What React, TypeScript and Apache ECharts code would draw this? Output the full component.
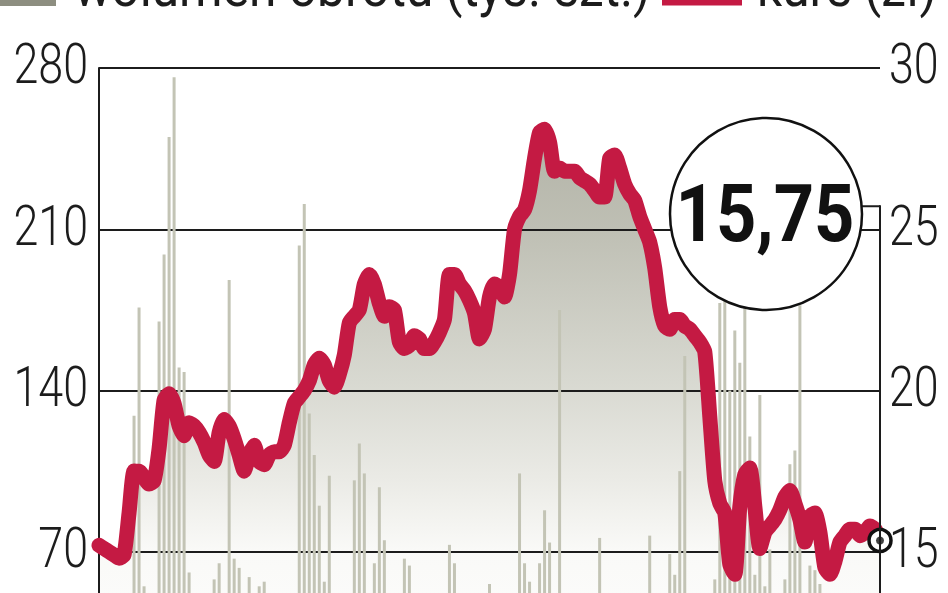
import React, { useEffect, useRef } from "react";
import * as echarts from "echarts";

// Kurs (zł) – one value per session
const price: number[] = [
  15.2, 15.1, 15.0, 14.9, 14.8, 14.9, 16.2, 17.5, 17.5, 17.3,
  17.1, 17.2, 18.2, 19.7, 19.9, 19.6, 18.9, 18.6, 19.0, 18.9,
  18.7, 18.4, 18.0, 17.8, 18.7, 19.1, 18.9, 18.5, 18.0, 17.5,
  18.0, 18.3, 17.8, 17.7, 18.0, 18.1, 18.1, 18.3, 19.0, 19.6,
  19.8, 20.0, 20.3, 20.8, 21.0, 20.8, 20.3, 20.1, 20.5, 21.1,
  22.1, 22.3, 22.5, 23.3, 23.6, 23.3, 22.7, 22.3, 22.6, 22.5,
  21.5, 21.3, 21.4, 21.7, 21.6, 21.3, 21.3, 21.5, 21.8, 22.2,
  23.6, 23.6, 23.3, 23.1, 22.8, 22.4, 21.6, 21.9, 22.9, 23.3,
  23.2, 22.9, 23.6, 25.0, 25.4, 25.6, 26.2, 27.2, 28.0, 28.1,
  27.7, 26.8, 26.9, 26.8, 26.8, 26.8, 26.6, 26.5, 26.4, 26.2,
  26.0, 26.0, 27.2, 27.3, 26.9, 26.4, 26.1, 25.9, 25.4, 25.0,
  24.6, 23.8, 22.6, 22.0, 21.9, 22.2, 22.2, 22.0, 21.9, 21.7,
  21.5, 21.2, 19.2, 17.2, 16.5, 16.2, 14.6, 14.3, 16.4, 17.4,
  17.6, 16.4, 15.1, 15.6, 15.8, 16.0, 16.3, 16.7, 16.9, 16.5,
  16.0, 15.3, 16.1, 16.2, 15.6, 14.5, 14.3, 14.7, 15.3, 15.5,
  15.7, 15.7, 15.5, 15.6, 15.8, 15.7, 15.35,
];

// Wolumen obrotu (tys. szt.)
const volume: number[] = [
  30, 25, 22, 35, 28, 40, 48, 129, 176, 55,
  45, 50, 170, 199, 250, 276, 150, 148, 61, 42,
  38, 45, 50, 58, 65, 47, 188, 67, 63, 50,
  59, 44, 55, 57, 40, 35, 30, 42, 48, 51,
  203, 221, 130, 112, 90, 57, 103, 45, 40, 50,
  48, 101, 117, 104, 52, 65, 98, 75, 45, 40,
  50, 67, 64, 42, 38, 30, 35, 33, 28, 45,
  73, 65, 40, 35, 30, 38, 44, 36, 56, 40,
  32, 28, 35, 47, 104, 65, 57, 45, 65, 88,
  74, 50, 175, 45, 38, 33, 30, 40, 35, 48,
  76, 40, 36, 30, 42, 38, 35, 30, 40, 45,
  77, 40, 45, 50, 69, 60, 105, 155, 48, 45,
  40, 50, 52, 58, 178, 180, 140, 166, 152, 176,
  120, 60, 138, 55, 71, 50, 48, 58, 108, 114,
  177, 52, 64, 62, 56, 45, 40, 35, 42, 38,
  30, 34, 28, 32, 36, 30, 25,
];

const sessions: string[] = price.map((_, i) => String(i + 1));

const volumeTicks = { min: 0, max: 280, interval: 70 };
const priceTicks = { min: 10, max: 30, interval: 5 };
const volumeLabels: number[] = [70, 140, 210, 280];
const priceLabels: number[] = [15, 20, 25, 30];

const lastQuote = "15,75";
const legendVolume = "wolumen obrotu (tys. szt.)";
const legendPrice = "kurs (zł)";

const FONT = 'Roboto, "DejaVu Sans Condensed", sans-serif';
const RED = "#c41a43";
const INK = "#1c1c1c";

export default function App() {
  const ref = useRef<HTMLDivElement>(null);

  useEffect(() => {
    if (!ref.current) return;
    const chart = echarts.init(ref.current, undefined, { renderer: "svg" });
    const last = price.length - 1;

    const lineData = price.map((v, i) =>
      i === last
        ? {
            value: v,
            symbol: "circle",
            symbolSize: 22,
            itemStyle: { color: "#ffffff", borderColor: "#111111", borderWidth: 3.5 },
          }
        : v
    );

    chart.setOption({
      animation: false,
      backgroundColor: "#ffffff",
      grid: { left: 99, top: 68, width: 781, height: 645, outerBoundsMode: "none", containLabel: false },
      xAxis: {
        type: "category",
        data: sessions,
        boundaryGap: false,
        show: false,
      },
      yAxis: [
        {
          type: "value",
          position: "left",
          ...volumeTicks,
          axisLine: { show: true, lineStyle: { color: INK, width: 2 } },
          axisTick: { show: false },
          splitLine: { show: true, lineStyle: { color: INK, width: 2 } },
          axisLabel: { show: false },
        },
        {
          type: "value",
          position: "right",
          ...priceTicks,
          axisLine: { show: false },
          axisTick: { show: false },
          splitLine: { show: false },
          axisLabel: { show: false },
        },
      ],
      series: [
        {
          type: "line",
          yAxisIndex: 1,
          data: price,
          smooth: 0.2,
          symbol: "none",
          silent: true,
          z: -1,
          lineStyle: { width: 0 },
          areaStyle: {
            color: new echarts.graphic.LinearGradient(0, 0, 0, 1, [
              { offset: 0, color: "rgb(146,147,130)" },
              { offset: 0.17, color: "rgb(163,164,148)" },
              { offset: 0.45, color: "rgb(202,203,192)" },
              { offset: 0.6, color: "rgb(226,226,219)" },
              { offset: 0.72, color: "rgb(247,247,244)" },
              { offset: 1, color: "#ffffff" },
            ]),
          },
        },
        {
          type: "bar",
          yAxisIndex: 0,
          data: volume,
          barWidth: 3,
          silent: true,
          z: 2,
          itemStyle: { color: "#c3c4b5" },
        },
        {
          type: "line",
          yAxisIndex: 1,
          data: lineData,
          smooth: 0.2,
          symbol: "none",
          silent: true,
          z: 5,
          lineStyle: { width: 15, color: RED, cap: "round", join: "round" },
        },
        {
          type: "scatter",
          yAxisIndex: 1,
          data: [[last, price[last]]],
          symbolSize: 8,
          silent: true,
          z: 7,
          itemStyle: { color: "#111111" },
        },
      ],
    });

    // tick labels, placed at the axes' own pixel positions
    const leftLabels = volumeLabels.map((v) => {
      const y = chart.convertToPixel({ yAxisIndex: 0 }, v) as number;
      return {
        type: "text",
        x: 88,
        y: y - 4,
        scaleX: 0.8,
        style: {
          text: String(v),
          font: `300 56px ${FONT}`,
          fill: INK,
          align: "right",
          verticalAlign: "middle",
        },
      };
    });
    const rightLabels = priceLabels.map((v) => {
      const y = chart.convertToPixel({ yAxisIndex: 1 }, v) as number;
      return {
        type: "text",
        x: 889,
        y: y - 4,
        scaleX: 0.8,
        style: {
          text: String(v),
          font: `300 56px ${FONT}`,
          fill: INK,
          align: "left",
          verticalAlign: "middle",
        },
      };
    });
    const y25 = chart.convertToPixel({ yAxisIndex: 1 }, 25) as number;

    chart.setOption({
      graphic: [
        ...leftLabels,
        ...rightLabels,
        {
          type: "rect",
          shape: { x: 0, y: 0, width: 56, height: 6 },
          style: { fill: "#8d8e80" },
        },
        {
          type: "text",
          x: 74,
          y: 15,
          scaleX: 0.92,
          style: {
            text: legendVolume,
            font: `54px ${FONT}`,
            fill: INK,
            align: "left",
            verticalAlign: "bottom",
          },
        },
        {
          type: "line",
          shape: { x1: 662, y1: 2, x2: 742, y2: 2 },
          style: { stroke: RED, lineWidth: 7 },
        },
        {
          type: "text",
          x: 757,
          y: 15,
          scaleX: 0.92,
          style: {
            text: legendPrice,
            font: `54px ${FONT}`,
            fill: INK,
            align: "left",
            verticalAlign: "bottom",
          },
        },
        {
          type: "line",
          shape: { x1: 858, y1: y25 - 23, x2: 880, y2: y25 - 23 },
          style: { stroke: INK, lineWidth: 2 },
          z: 90,
        },
        {
          type: "line",
          shape: { x1: 880, y1: y25 - 24, x2: 880, y2: 720 },
          style: { stroke: INK, lineWidth: 2 },
          z: 90,
        },
        {
          type: "circle",
          shape: { cx: 766, cy: 214, r: 96 },
          style: { fill: "#ffffff", stroke: "#111111", lineWidth: 2.5 },
          z: 100,
        },
        {
          type: "text",
          x: 765,
          y: 213,
          scaleX: 0.88,
          style: {
            text: lastQuote,
            font: `bold 80px ${FONT}`,
            fill: "#111111",
            align: "center",
            verticalAlign: "middle",
          },
          z: 101,
        },
      ],
    });

    return () => chart.dispose();
  }, []);

  return (
    <div
      style={{
        position: "fixed",
        left: 0,
        top: 0,
        width: 948,
        height: 593,
        overflow: "hidden",
        background: "#ffffff",
      }}
    >
      <div ref={ref} style={{ width: 948, height: 720 }} />
    </div>
  );
}
